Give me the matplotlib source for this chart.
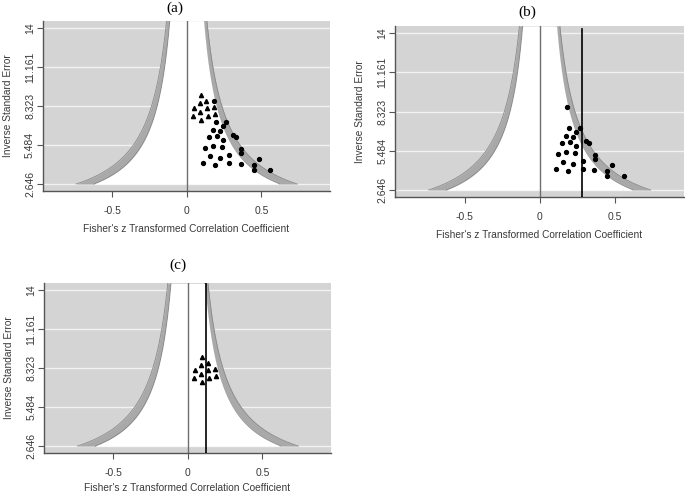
import numpy as np
import matplotlib
matplotlib.use("Agg")
import matplotlib.pyplot as plt

plt.rcParams['font.family'] = ['Liberation Sans', 'DejaVu Sans']

# observed studies (circles): Fisher z, inverse standard error
obs_z = [0.183, 0.196, 0.266, 0.243, 0.179, 0.223, 0.150, 0.201, 0.243, 0.310,
         0.328, 0.125, 0.179, 0.237, 0.366, 0.366, 0.156, 0.223, 0.286, 0.484,
         0.109, 0.188, 0.286, 0.364, 0.449, 0.451, 0.560]
obs_prec = [8.66, 7.14, 7.16, 6.87, 6.54, 6.51, 6.08, 6.12, 5.83, 6.20,
            6.05, 5.23, 5.42, 5.33, 5.21, 4.92, 4.65, 4.51, 4.77, 4.48,
            4.14, 4.02, 4.14, 4.10, 4.02, 3.64, 3.64]

# second group (triangles)
tri_z = [0.098, 0.089, 0.132, 0.049, 0.138, 0.183, 0.089, 0.042, 0.145, 0.192, 0.098]
tri_prec = [9.14, 8.54, 8.69, 8.20, 8.20, 8.25, 7.89, 7.62, 7.62, 7.74, 7.31]

ytick_vals = [2.646, 5.484, 8.323, 11.161, 14]
ytick_labels = ['2.646', '5.484', '8.323', '11.161', '14']
xtick_vals = [-0.5, 0, 0.5]
xtick_labels = ['-0.5', '0', '0.5']

mean_b = 0.281
mean_c = 0.125

crit_90 = 1.645
crit_95 = 1.96
YLIM = (2.16, 14.52)
XLIM = (-0.965, 0.96)

LIGHT = '#d4d4d4'
BAND = '#a9a9a9'
TXT = '#3a3a3a'


def funnel(ax, xpad=5.5):
    ax.set_facecolor(LIGHT)
    ax.set_xlim(XLIM)
    ax.set_ylim(YLIM)
    for y in ytick_vals:
        ax.axhline(y, color='#f2f2f2', lw=1.0, zorder=1)
    p = np.linspace(ytick_vals[0], YLIM[1], 300)
    for s in (-1, 1):
        ax.fill_betweenx(p, s * crit_90 / p, s * crit_95 / p, color=BAND, zorder=2, lw=0)
        ax.plot(s * crit_95 / p, p, color='#8a8a8a', lw=0.6, zorder=2)
        ax.plot(s * crit_90 / p, p, color='#8a8a8a', lw=0.6, zorder=2)
    ax.fill_betweenx(p, -crit_90 / p, crit_90 / p, color='white', zorder=2, lw=0)
    ax.axvline(0, color='#6e6e6e', lw=1.0, zorder=3)

    for side in ('top', 'right'):
        ax.spines[side].set_visible(False)
    for side in ('left', 'bottom'):
        ax.spines[side].set_color('#555555')
        ax.spines[side].set_linewidth(1.0)
    ax.set_xticks(xtick_vals)
    ax.set_xticklabels(xtick_labels)
    ax.set_yticks(ytick_vals)
    ax.set_yticklabels(ytick_labels, rotation=90, va='center')
    ax.tick_params(axis='x', length=4, pad=7, labelsize=7.5, colors='#555555', labelcolor=TXT)
    ax.tick_params(axis='y', length=4, pad=1.5, labelsize=7.5, colors='#555555', labelcolor=TXT)
    ax.set_xlabel("Fisher's z Transformed Correlation Coefficient", fontsize=7.3,
                  color=TXT, labelpad=xpad)
    ax.set_ylabel('Inverse Standard Error', fontsize=7.3, color=TXT, labelpad=9)


fig = plt.figure(figsize=(6.85, 4.97), dpi=100)

ax_a = fig.add_axes([0.0623, 0.6163, 0.4194, 0.3421])
funnel(ax_a)
ax_a.plot(obs_z, obs_prec, 'o', color='black', ms=2.8, zorder=4)
ax_a.plot(tri_z, tri_prec, '^', color='black', ms=3.0, zorder=4)

ax_b = fig.add_axes([0.5766, 0.6042, 0.4213, 0.3435])
funnel(ax_b)
ax_b.axvline(mean_b, ymax=0.985, color='black', lw=1.2, zorder=3)
ax_b.plot(obs_z, obs_prec, 'o', color='black', ms=2.8, zorder=4)

ax_c = fig.add_axes([0.0642, 0.0891, 0.4190, 0.3408])
funnel(ax_c, xpad=3.5)
ax_c.axvline(mean_c, color='black', lw=1.2, zorder=3)
ax_c.plot(tri_z, tri_prec, '^', color='black', ms=3.0, zorder=4)

title_kw = dict(fontsize=11, family=['Liberation Serif', 'DejaVu Serif'], ha='center', va='center')
fig.text(175 / 685, 1 - 8 / 497, '(a)', **title_kw)
fig.text(527 / 685, 1 - 12 / 497, '(b)', **title_kw)
fig.text(178 / 685, 1 - 265 / 497, '(c)', **title_kw)

fig.savefig('out.png', dpi=100)
